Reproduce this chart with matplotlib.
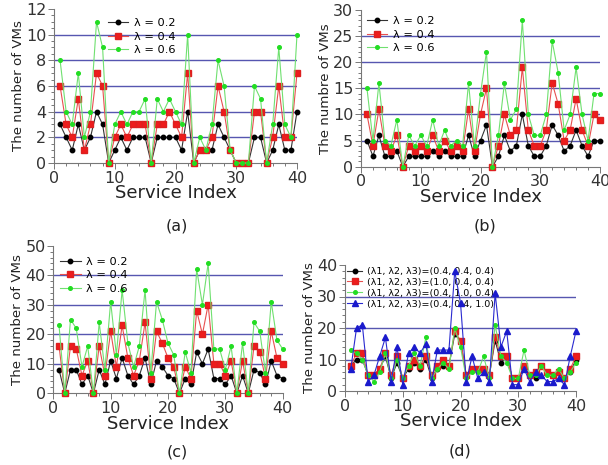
import matplotlib

matplotlib.use("Agg")
import matplotlib.pyplot as plt
from matplotlib.ticker import MultipleLocator

plt.rcParams["font.family"] = ["DejaVu Sans"]

idx = list(range(1, 41))

# panel (a)
a_l02 = [3, 2, 1, 3, 1, 2, 4, 3, 0, 1, 2, 1, 2, 2, 2, 0, 2, 2, 2, 2,
         1, 4, 0, 1, 1, 1, 3, 2, 1, 0, 0, 0, 2, 2, 0, 1, 3, 1, 1, 4]
a_l04 = [6, 3, 2, 5, 1, 3, 7, 6, 0, 2, 3, 2, 3, 3, 3, 0, 3, 3, 4, 3,
         2, 7, 0, 1, 1, 2, 6, 4, 1, 0, 0, 0, 4, 4, 0, 2, 6, 2, 2, 7]
a_l06 = [8, 4, 3, 7, 2, 4, 11, 9, 0, 3, 4, 3, 4, 4, 5, 0, 5, 4, 5, 4,
         3, 10, 0, 2, 1, 3, 8, 6, 1, 0, 0, 0, 6, 5, 0, 3, 9, 3, 2, 10]

# panel (b)
b_l02 = [5, 2, 6, 2, 2, 3, 0, 2, 2, 2, 2, 3, 2, 3, 2, 2, 2, 6, 2, 5,
         8, 0, 2, 6, 3, 4, 10, 4, 2, 2, 4, 8, 6, 3, 4, 7, 4, 2, 5, 5]
b_l04 = [10, 4, 11, 4, 3, 6, 0, 4, 3, 4, 3, 6, 3, 5, 3, 4, 3, 11, 3, 10,
         15, 0, 4, 10, 6, 7, 19, 7, 4, 4, 7, 16, 12, 5, 7, 13, 7, 4, 10, 9]
b_l06 = [15, 5, 16, 5, 4, 9, 0, 6, 4, 6, 4, 9, 4, 7, 4, 5, 4, 16, 4, 14,
         22, 0, 6, 16, 9, 11, 28, 10, 6, 6, 10, 24, 18, 7, 10, 19, 10, 5, 14, 14]

# panel (c)
c_l02 = [8, 0, 8, 8, 3, 6, 0, 8, 3, 11, 5, 12, 6, 3, 6, 12, 3, 11, 9, 6,
         5, 0, 5, 3, 14, 10, 15, 5, 5, 3, 6, 0, 6, 0, 8, 7, 3, 11, 6, 5]
c_l04 = [16, 0, 16, 15, 6, 11, 0, 16, 6, 21, 9, 23, 12, 6, 11, 24, 5, 21, 17, 12,
         9, 0, 9, 5, 28, 20, 30, 10, 10, 6, 11, 0, 11, 0, 16, 14, 5, 21, 12, 10]
c_l06 = [23, 0, 25, 22, 9, 16, 0, 24, 8, 31, 13, 35, 17, 9, 16, 35, 7, 31, 25, 17,
         13, 0, 14, 7, 42, 30, 44, 15, 15, 8, 16, 0, 17, 0, 24, 21, 7, 31, 18, 15]

# panel (d)
d_base = [8, 10, 10, 5, 5, 7, 11, 4, 9, 4, 7, 9, 7, 10, 4, 7, 8, 8, 18, 16,
          5, 7, 7, 7, 5, 16, 9, 11, 4, 4, 7, 5, 4, 8, 6, 5, 6, 4, 6, 10]
d_l1 = [8, 12, 12, 5, 5, 7, 12, 5, 11, 4, 8, 10, 8, 11, 5, 8, 10, 8, 19, 16,
        5, 7, 7, 7, 5, 17, 11, 11, 4, 4, 8, 5, 6, 8, 6, 5, 6, 4, 7, 11]
d_l2 = [13, 12, 10, 5, 3, 6, 12, 4, 10, 4, 8, 12, 8, 17, 4, 7, 9, 7, 20, 14,
        4, 6, 6, 11, 4, 21, 11, 9, 4, 4, 13, 5, 5, 8, 5, 5, 7, 4, 6, 9]
d_l3 = [7, 20, 21, 3, 5, 11, 17, 3, 14, 2, 12, 14, 12, 15, 3, 13, 13, 13, 38, 28,
        3, 11, 4, 6, 3, 31, 14, 19, 2, 2, 7, 3, 6, 5, 3, 3, 4, 2, 11, 19]

lam_labels = ["λ = 0.2", "λ = 0.4", "λ = 0.6"]
d_labels = ["(λ1, λ2, λ3)=(0.4, 0.4, 0.4)", "(λ1, λ2, λ3)=(1.0, 0.4, 0.4)",
            "(λ1, λ2, λ3)=(0.4, 1.0, 0.4)", "(λ1, λ2, λ3)=(0.4, 0.4, 1.0)"]

STYLES = [
    dict(color="#333333", marker="o", markersize=3.2, markerfacecolor="black", markeredgecolor="black"),
    dict(color="#e85050", marker="s", markersize=5, markerfacecolor="#ee1c1c", markeredgecolor="#dd2020"),
    dict(color="#70e070", marker="o", markersize=2.6, markerfacecolor="#22dd22", markeredgecolor="#22dd22"),
    dict(color="#2a2ad0", marker="^", markersize=4, markerfacecolor="#1a1acc", markeredgecolor="#1a1acc"),
]
GRID = "#5656b0"
TXT = "#333333"

fig = plt.figure(figsize=(6.08, 4.65), dpi=100)


def panel(rect, series, labels, ymax, ymaj, ymin, ylabel, caption, cap_xy, leg_xy, leg_fs, hl, ls):
    ax = fig.add_axes(rect)
    for k, (vals, lab) in enumerate(zip(series, labels)):
        ax.plot(idx, vals, linewidth=0.8, label=lab, zorder=3 + k, clip_on=False, **STYLES[k])
    ax.set_xlim(0, 40)
    ax.set_ylim(0, ymax)
    y = ymaj
    while y < ymax:
        ax.axhline(y, color=GRID, linewidth=1.0, zorder=1)
        y += ymaj
    ax.xaxis.set_major_locator(MultipleLocator(10))
    ax.xaxis.set_minor_locator(MultipleLocator(2))
    ax.yaxis.set_major_locator(MultipleLocator(ymaj))
    ax.yaxis.set_minor_locator(MultipleLocator(ymin))
    for s in ("top", "right"):
        ax.spines[s].set_visible(False)
    for s in ("left", "bottom"):
        ax.spines[s].set_color("#777777")
        ax.spines[s].set_linewidth(0.8)
    ax.tick_params(which="both", direction="out", colors="#777777", labelcolor=TXT, labelsize=11.5, width=0.7)
    ax.tick_params(which="major", length=4, pad=1.5)
    ax.tick_params(which="minor", length=2.2)
    ax.set_xlabel("Service Index", fontsize=13, color="#222222", labelpad=-1)
    ax.set_ylabel(ylabel, fontsize=9.6, color="#222222", labelpad=1)
    ax.legend(loc="upper left", bbox_to_anchor=leg_xy, frameon=False, fontsize=leg_fs,
              handlelength=hl, handletextpad=0.5, labelspacing=ls, borderpad=0, borderaxespad=0)
    fig.text(cap_xy[0] / 608, 1 - cap_xy[1] / 465, caption, ha="center", va="center",
             fontsize=11.5, color="#222222")
    return ax


panel([54 / 608, 1 - 163 / 465, 243 / 608, 154 / 465], [a_l02, a_l04, a_l06], lam_labels,
      12, 2, 0.5, "The number of VMs", "(a)", (177, 226), (0.222, 0.94), 8.2, 1.8, 0.3)
panel([361 / 608, 1 - 166.7 / 465, 239 / 608, 156.7 / 465], [b_l02, b_l04, b_l06], lam_labels,
      30, 5, 1, "The numbre of VMs", "(b)", (485, 226), (0.025, 0.96), 8.2, 1.8, 0.3)
panel([53.3 / 608, 1 - 393.3 / 465, 229.4 / 608, 147.6 / 465], [c_l02, c_l04, c_l06], lam_labels,
      50, 10, 2, "The number of VMs", "(c)", (177, 452), (0.03, 0.925), 8.2, 1.8, 0.3)
panel([345 / 608, 1 - 391 / 465, 231 / 608, 126 / 465], [d_base, d_l1, d_l2, d_l3], d_labels,
      40, 10, 2, "The number of VMs", "(d)", (460, 451), (0.01, 0.985), 6.8, 1.6, 0.2)

fig.savefig("out.png", dpi=100)
